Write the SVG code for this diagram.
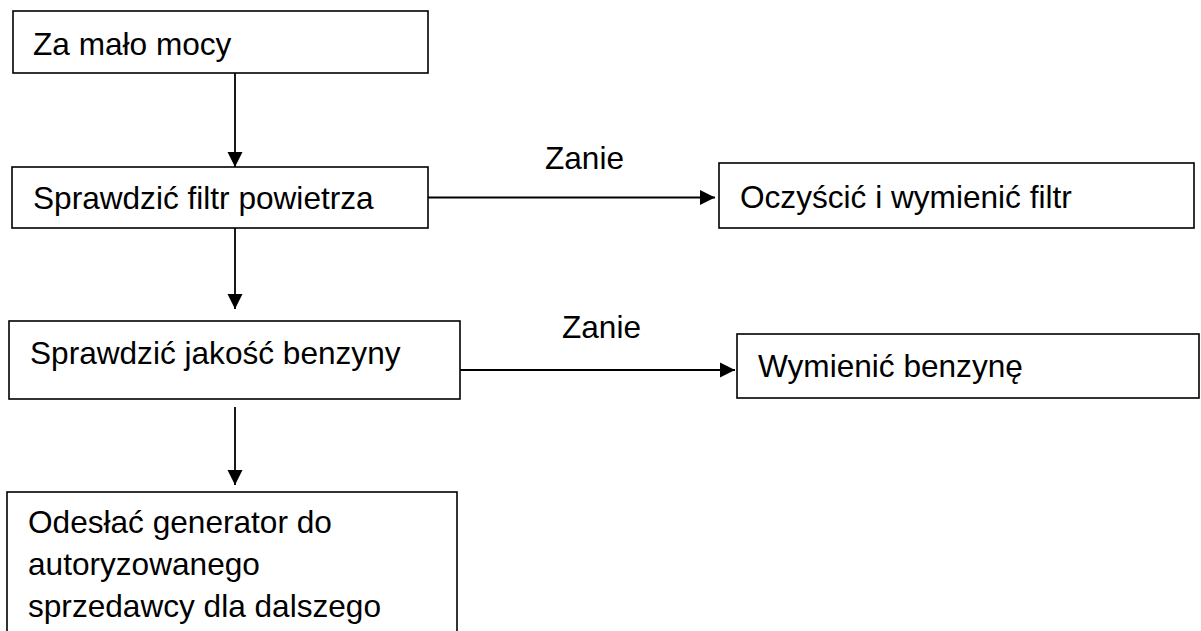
<svg xmlns="http://www.w3.org/2000/svg" width="1201" height="631" viewBox="0 0 1201 631">
<style>
.box{fill:#fff;stroke:#000;stroke-width:1.6}
.t{font-family:"Liberation Sans",Arial,sans-serif;font-size:31.6px;fill:#000}
.c{stroke:#000;stroke-width:1.8;fill:none}
</style>
<defs>
<marker id="ah" markerUnits="userSpaceOnUse" markerWidth="16" markerHeight="16" viewBox="0 0 16 16" refX="15" refY="8" orient="auto">
<path d="M0,0.5 L15,8 L0,15.5 Z" fill="#000"/>
</marker>
</defs>
<rect width="1201" height="631" fill="#fff"/>
<g id="n1"><rect class="box" x="13" y="11" width="415" height="62"/><text class="t" x="33" y="55">Za mało mocy</text></g>
<g id="n2"><rect class="box" x="12" y="167" width="416" height="61"/><text class="t" x="33" y="209">Sprawdzić filtr powietrza</text></g>
<g id="n3"><rect class="box" x="719" y="163" width="475" height="65"/><text class="t" x="740" y="208">Oczyścić i wymienić filtr</text></g>
<g id="n4"><rect class="box" x="9" y="321" width="451" height="78"/><text class="t" x="30" y="364">Sprawdzić jakość benzyny</text></g>
<g id="n5"><rect class="box" x="737" y="334" width="462" height="64"/><text class="t" x="758" y="377">Wymienić benzynę</text></g>
<g id="n6"><rect class="box" x="7" y="492" width="450" height="150"/><text class="t" x="28" y="533">Odesłać generator do</text><text class="t" x="28" y="575">autoryzowanego</text><text class="t" x="28" y="617">sprzedawcy dla dalszego</text></g>
<g id="connectors">
<line class="c" x1="235" y1="73" x2="235" y2="167" marker-end="url(#ah)"/>
<line class="c" x1="235" y1="228" x2="235" y2="309" marker-end="url(#ah)"/>
<line class="c" x1="235" y1="407" x2="235" y2="485" marker-end="url(#ah)"/>
<line class="c" x1="428" y1="197.5" x2="715" y2="197.5" marker-end="url(#ah)"/>
<line class="c" x1="460" y1="370" x2="735" y2="370" marker-end="url(#ah)"/>
<text class="t" x="545" y="169">Zanie</text>
<text class="t" x="562" y="338">Zanie</text>
</g>
</svg>
